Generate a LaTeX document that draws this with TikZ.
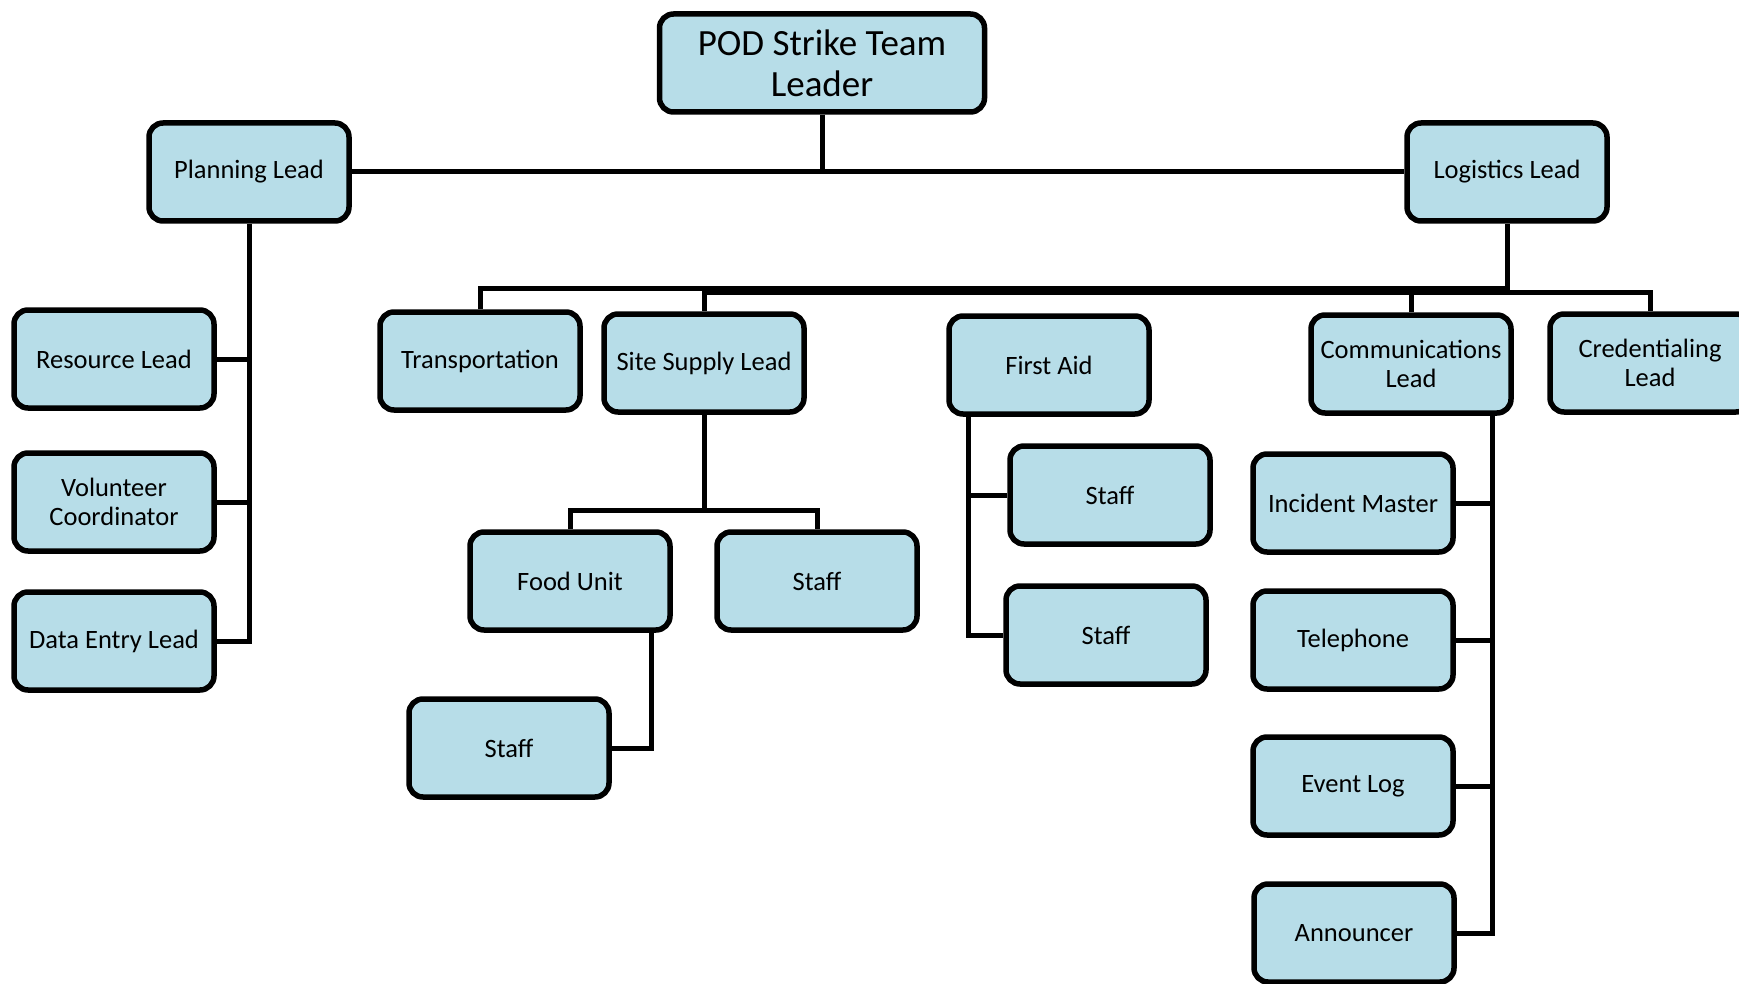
\documentclass[tikz,border=0pt]{standalone}
\usepackage{fontspec}
\setmainfont{Carlito}
\definecolor{boxfill}{HTML}{B7DDE8}
\tikzset{
  orgbox/.style={draw=black, fill=boxfill, line width=5.5pt, rounded corners=14pt,
    minimum width=200pt, minimum height=98pt, align=center, inner sep=2pt,
    font=\fontsize{26.5}{29.5}\selectfont},
  topbox/.style={orgbox, minimum width=325pt, font=\fontsize{37}{41}\selectfont},
  link/.style={draw=black, line width=5pt}
}
\begin{document}
\begin{tikzpicture}[x=1pt, y=-1pt]
\useasboundingbox (0,0) rectangle (1739,984);
\clip (0,0) rectangle (1739,984);
% nodes
\node[topbox] (pod) at (822,63) {POD Strike Team\\Leader};
\node[orgbox] (plan) at (249,172) {Planning Lead};
\node[orgbox] (log) at (1507,172) {Logistics Lead};
\node[orgbox] (res) at (114,359) {Resource Lead};
\node[orgbox] (vol) at (114,502) {Volunteer\\Coordinator};
\node[orgbox] (dat) at (114,641) {Data Entry Lead};
\node[orgbox] (trans) at (480,361) {Transportation};
\node[orgbox] (site) at (704,363) {Site Supply Lead};
\node[orgbox] (first) at (1049,365) {First Aid};
\node[orgbox] (comm) at (1411,364) {Communications\\Lead};
\node[orgbox] (cred) at (1650,363) {Credentialing\\Lead};
\node[orgbox] (food) at (570,581) {Food Unit};
\node[orgbox] (staffA) at (817,581) {Staff};
\node[orgbox] (staffB) at (509,748) {Staff};
\node[orgbox] (staffC) at (1110,495) {Staff};
\node[orgbox] (staffD) at (1106,635) {Staff};
\node[orgbox] (inc) at (1353,503) {Incident Master};
\node[orgbox] (tel) at (1353,640) {Telephone};
\node[orgbox] (evt) at (1353,786) {Event Log};
\node[orgbox] (ann) at (1354,933) {Announcer};
% helper coordinates
\coordinate (busA) at (0,288);
\coordinate (busB) at (0,292);
\coordinate (sbus) at (0,510);
\coordinate (fx) at (651,0);
\coordinate (fax) at (968,0);
\coordinate (cx) at (1492,0);
% connectors
\draw[link] (plan.east) -- (log.west);
\draw[link] (pod.south) -- (pod.south |- plan.east);
\draw[link] (plan.south) |- (dat.east);
\draw[link] (res.east) -- (res.east -| plan.south);
\draw[link] (vol.east) -- (vol.east -| plan.south);
\draw[link] (trans.north) -- (trans.north |- busA) -| (log.south);
\draw[link] (site.north) -- (site.north |- busB) -| (cred.north);
\draw[link] (comm.north) -- (comm.north |- busB);
\draw[link] (site.south) -- (site.south |- sbus);
\draw[link] (food.north) -- (food.north |- sbus) -| (staffA.north);
\draw[link] (food.south -| fx) |- (staffB.east);
\draw[link] (first.south -| fax) |- (staffD.west);
\draw[link] (staffC.west) -- (staffC.west -| fax);
\draw[link] (comm.south -| cx) |- (ann.east);
\draw[link] (inc.east) -- (inc.east -| cx);
\draw[link] (tel.east) -- (tel.east -| cx);
\draw[link] (evt.east) -- (evt.east -| cx);
\end{tikzpicture}
\end{document}
